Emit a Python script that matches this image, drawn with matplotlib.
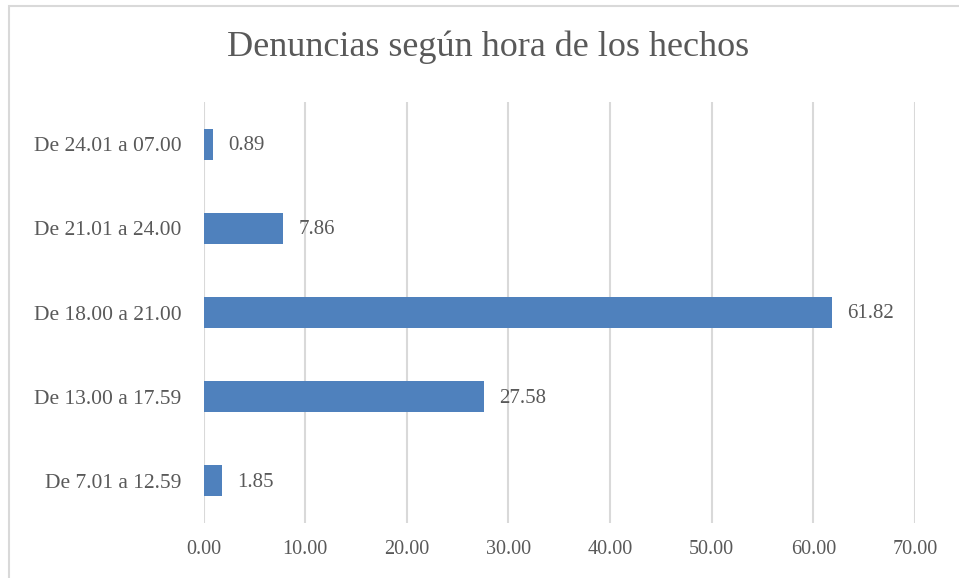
import matplotlib.pyplot as plt
from matplotlib.patches import Rectangle

# datos
categorias = ["De 7.01 a 12.59", "De 13.00 a 17.59", "De 18.00 a 21.00",
              "De 21.01 a 24.00", "De 24.01 a 07.00"]
valores = [1.85, 27.58, 61.82, 7.86, 0.89]
ticks_x = [0, 10, 20, 30, 40, 50, 60, 70]

plt.rcParams['font.family'] = ['Liberation Serif', 'DejaVu Serif']
texto = '#595959'

fig = plt.figure(figsize=(9.59, 5.78), dpi=100)
ax = fig.add_axes([203.5/959, 1 - 523/578, (915 - 203.5)/959, (523 - 102)/578])

# borde del gráfico
fig.patches.append(Rectangle((9/959, -0.05), 1.1, 1 - 6/578 + 0.05,
                             transform=fig.transFigure, fill=False,
                             edgecolor='#D9D9D9', linewidth=1.5))

pos = range(len(categorias))
ax.barh(pos, valores, height=0.37, color='#4F81BD', zorder=3)
for y, v in zip(pos, valores):
    ax.annotate(f"{v:.2f}", (v, y), xytext=(11, -1), textcoords='offset points',
                va='center', ha='left', fontsize=15, color=texto)

ax.set_xlim(0, 70)
ax.set_ylim(-0.5, 4.5)
ax.set_xticks(ticks_x)
ax.set_xticklabels([f"{t:.2f}" for t in ticks_x])
ax.set_yticks(list(pos))
ax.set_yticklabels(categorias)
ax.tick_params(axis='x', length=0, labelsize=14.5, labelcolor=texto, pad=12)
ax.tick_params(axis='y', length=0, labelsize=15.5, labelcolor=texto, pad=16)
ax.grid(axis='x', color='#D9D9D9', linewidth=1.5, zorder=0)
for s in ax.spines.values():
    s.set_visible(False)

fig.text(488/959, 1 - 47/578, "Denuncias según hora de los hechos",
         ha='center', va='center', fontsize=26, color=texto)

fig.savefig("out.png", dpi=100)
